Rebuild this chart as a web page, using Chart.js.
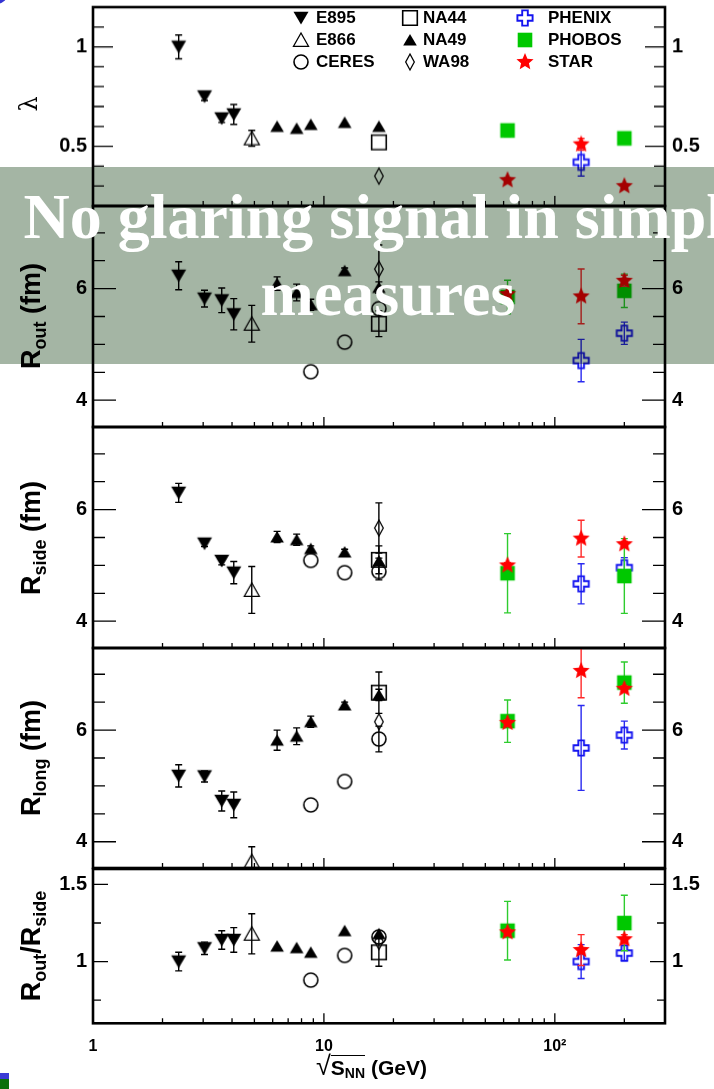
<!DOCTYPE html>
<html>
<head>
<meta charset="utf-8">
<title>HBT parameters versus collision energy</title>
<script src="https://cdn.jsdelivr.net/npm/chart.js@4.4.1/dist/chart.umd.min.js"></script>
<style>
  html, body { margin:0; padding:0; background:#fff; }
  body { position:relative; width:714px; height:1089px; overflow:hidden;
         font-family:"Liberation Sans", Arial, Helvetica, sans-serif; color:#000; }
  #panels { position:absolute; left:0; top:0; width:714px; height:1089px; }
  canvas.panel { position:absolute; left:0; }
  .ytitle { position:absolute; transform:translate(-50%,-50%) rotate(-90deg); white-space:nowrap;
            font-weight:bold; font-size:27px; line-height:1; }
  .ytitle sub { font-size:18px; vertical-align:-6px; line-height:0; }
  #lambdaTitle { font-family:"DejaVu Serif", serif; font-weight:normal; font-size:24px; }
  .leg { position:absolute; font-weight:bold; font-size:17px; line-height:22px; height:22px; white-space:nowrap; }
  .legmark { position:absolute; }
  #xtitle { position:absolute; left:316px; top:1053px; font-weight:bold; font-size:21px; white-space:nowrap; line-height:1; }
  #xtitle .rad { font-weight:normal; font-size:27px; }
  #xtitle .ov { border-top:1.6px solid #000; }
  #xtitle sub { font-size:14px; vertical-align:-3px; line-height:0; }
  #banner { position:absolute; left:0; top:167px; width:714px; height:197px; background:#a4b5a4; mix-blend-mode:multiply; }
  #bannerText { position:absolute; left:0; top:178px; width:776px; text-align:center; color:#fff;
     font-family:"Liberation Serif","Times New Roman",serif; font-weight:bold; font-size:64px; line-height:77px; white-space:nowrap; }
  .deco { position:absolute; }
</style>
</head>
<body>
<div id="panels"></div>
<div id="overlay"></div>
<div id="xtitle"><span class="rad">√</span><span class="ov">S<sub>NN</sub></span> (GeV)</div>
<div id="banner"></div>
<div id="bannerText">No glaring signal in simple<br>measures</div>
<div class="deco" style="left:-14px;top:-14px;width:21px;height:18px;border-radius:50%;background:#3434d2;"></div>
<div class="deco" style="left:0;top:1073px;width:9px;height:6px;background:#3b3bd6;"></div>
<div class="deco" style="left:0;top:1079px;width:9px;height:10px;background:#0b700b;"></div>
<script>
// ---- sqrt(s_NN) of each data set (GeV) ----
const E895_SQRTS   = [2.35, 3.04, 3.61, 4.07];
const E866_SQRTS   = [4.87];
const CERES_SQRTS  = [8.77, 12.3, 17.3];
const NA44_SQRTS   = [17.3];
const NA49_SQRTS   = [6.27, 7.62, 8.77, 12.3, 17.3];
const WA98_SQRTS   = [17.3];
const PHENIX_SQRTS = [130, 200];
const PHOBOS_SQRTS = [62.4, 200];
const STAR_SQRTS   = [62.4, 130, 200];

// ---- lambda ----
const E895_LAMBDA   = [1.00, 0.75, 0.64, 0.66];        const E895_LAMBDA_ERR   = [0.06, 0.02, 0.02, 0.05];
const E866_LAMBDA   = [0.54];                          const E866_LAMBDA_ERR   = [0.04];
const CERES_LAMBDA  = [null, null, null];              const CERES_LAMBDA_ERR  = [0, 0, 0];
const NA44_LAMBDA   = [0.52];                          const NA44_LAMBDA_ERR   = [0];
const NA49_LAMBDA   = [0.60, 0.59, 0.61, 0.62, 0.60];  const NA49_LAMBDA_ERR   = [0, 0, 0, 0, 0];
const WA98_LAMBDA   = [0.35];                          const WA98_LAMBDA_ERR   = [0];
const PHENIX_LAMBDA = [0.42, null];                    const PHENIX_LAMBDA_ERR = [0.07, 0];
const PHOBOS_LAMBDA = [0.58, 0.54];                    const PHOBOS_LAMBDA_ERR = [0.03, 0.02];
const STAR_LAMBDA   = [0.33, 0.51, 0.30];              const STAR_LAMBDA_ERR   = [0.01, 0.03, 0.01];

// ---- R_out (fm) ----
const E895_ROUT   = [6.23, 5.82, 5.79, 5.54];          const E895_ROUT_ERR   = [0.25, 0.15, 0.22, 0.28];
const E866_ROUT   = [5.37];                            const E866_ROUT_ERR   = [0.33];
const CERES_ROUT  = [4.51, 5.04, 5.64];                const CERES_ROUT_ERR  = [0, 0, 0];
const NA44_ROUT   = [5.37];                            const NA44_ROUT_ERR   = [0.23];
const NA49_ROUT   = [6.09, 5.93, 5.71, 6.32, 6.02];    const NA49_ROUT_ERR   = [0.12, 0.15, 0.10, 0.05, 0.10];
const WA98_ROUT   = [6.35];                            const WA98_ROUT_ERR   = [0.43];
const PHENIX_ROUT = [4.71, 5.20];                      const PHENIX_ROUT_ERR = [0.38, 0.20];
const PHOBOS_ROUT = [5.85, 5.96];                      const PHOBOS_ROUT_ERR = [0.30, 0.30];
const STAR_ROUT   = [5.90, 5.86, 6.14];                const STAR_ROUT_ERR   = [0.05, 0.49, 0.10];

// ---- R_side (fm) ----
const E895_RSIDE   = [6.30, 5.39, 5.08, 4.87];         const E895_RSIDE_ERR   = [0.17, 0.05, 0.07, 0.20];
const E866_RSIDE   = [4.56];                           const E866_RSIDE_ERR   = [0.42];
const CERES_RSIDE  = [5.09, 4.87, 4.89];               const CERES_RSIDE_ERR  = [0, 0, 0.15];
const NA44_RSIDE   = [5.10];                           const NA44_RSIDE_ERR   = [0.25];
const NA49_RSIDE   = [5.51, 5.46, 5.30, 5.24, 5.08];   const NA49_RSIDE_ERR   = [0.10, 0.10, 0.05, 0.05, 0.05];
const WA98_RSIDE   = [5.67];                           const WA98_RSIDE_ERR   = [0.45];
const PHENIX_RSIDE = [4.67, 4.96];                     const PHENIX_RSIDE_ERR = [0.36, 0.18];
const PHOBOS_RSIDE = [4.86, 4.81];                     const PHOBOS_RSIDE_ERR = [0.71, 0.67];
const STAR_RSIDE   = [5.00, 5.48, 5.38];               const STAR_RSIDE_ERR   = [0.05, 0.33, 0.05];

// ---- R_long (fm) ----
const E895_RLONG   = [5.18, 5.17, 4.73, 4.66];         const E895_RLONG_ERR   = [0.20, 0.10, 0.18, 0.23];
const E866_RLONG   = [3.65];                           const E866_RLONG_ERR   = [0.26];
const CERES_RLONG  = [4.66, 5.08, 5.84];               const CERES_RLONG_ERR  = [0, 0, 0.23];
const NA44_RLONG   = [6.67];                           const NA44_RLONG_ERR   = [0.37];
const NA49_RLONG   = [5.82, 5.89, 6.15, 6.45, 6.63];   const NA49_RLONG_ERR   = [0.18, 0.15, 0.10, 0.05, 0.10];
const WA98_RLONG   = [6.15];                           const WA98_RLONG_ERR   = [0];
const PHENIX_RLONG = [5.68, 5.91];                     const PHENIX_RLONG_ERR = [0.76, 0.25];
const PHOBOS_RLONG = [6.16, 6.85];                     const PHOBOS_RLONG_ERR = [0.38, 0.37];
const STAR_RLONG   = [6.13, 7.06, 6.74];               const STAR_RLONG_ERR   = [0.05, 0.48, 0.05];

// ---- R_out / R_side ----
const E895_RATIO   = [1.00, 1.086, 1.14, 1.14];        const E895_RATIO_ERR   = [0.06, 0.04, 0.06, 0.08];
const E866_RATIO   = [1.18];                           const E866_RATIO_ERR   = [0.13];
const CERES_RATIO  = [0.88, 1.04, 1.16];               const CERES_RATIO_ERR  = [0, 0, 0];
const NA44_RATIO   = [1.06];                           const NA44_RATIO_ERR   = [0.09];
const NA49_RATIO   = [1.10, 1.09, 1.06, 1.20, 1.18];   const NA49_RATIO_ERR   = [0, 0, 0, 0, 0];
const WA98_RATIO   = [1.13];                           const WA98_RATIO_ERR   = [0];
const PHENIX_RATIO = [1.00, 1.055];                    const PHENIX_RATIO_ERR = [0.11, 0.05];
const PHOBOS_RATIO = [1.20, 1.25];                     const PHOBOS_RATIO_ERR = [0.19, 0.18];
const STAR_RATIO   = [1.19, 1.075, 1.145];             const STAR_RATIO_ERR   = [0.02, 0.10, 0.03];

// ---- axis tick values ----
const X_MAJOR = [1, 10, 100];
const X_LABELS = ['1', '10', '10²'];
const X_MINOR = [2, 3, 4, 5, 6, 7, 8, 9, 20, 30, 40, 50, 60, 70, 80, 90, 200];
const LAMBDA_TICKS = [0.5, 1];
const LAMBDA_MINOR = [0.3, 0.4, 0.6, 0.7, 0.8, 0.9, 1.1];
const R_TICKS = [4, 6];
const R_MINOR = [4.5, 5, 5.5, 6.5, 7];
const RATIO_TICKS = [1, 1.5];
const RATIO_MINOR = [0.75, 1.25];

// Lookup built from the arrays above
const SERIES = {
  E895:   { sqrts: E895_SQRTS,   LAMBDA: [E895_LAMBDA, E895_LAMBDA_ERR],     ROUT: [E895_ROUT, E895_ROUT_ERR],     RSIDE: [E895_RSIDE, E895_RSIDE_ERR],     RLONG: [E895_RLONG, E895_RLONG_ERR],     RATIO: [E895_RATIO, E895_RATIO_ERR] },
  E866:   { sqrts: E866_SQRTS,   LAMBDA: [E866_LAMBDA, E866_LAMBDA_ERR],     ROUT: [E866_ROUT, E866_ROUT_ERR],     RSIDE: [E866_RSIDE, E866_RSIDE_ERR],     RLONG: [E866_RLONG, E866_RLONG_ERR],     RATIO: [E866_RATIO, E866_RATIO_ERR] },
  CERES:  { sqrts: CERES_SQRTS,  LAMBDA: [CERES_LAMBDA, CERES_LAMBDA_ERR],   ROUT: [CERES_ROUT, CERES_ROUT_ERR],   RSIDE: [CERES_RSIDE, CERES_RSIDE_ERR],   RLONG: [CERES_RLONG, CERES_RLONG_ERR],   RATIO: [CERES_RATIO, CERES_RATIO_ERR] },
  NA44:   { sqrts: NA44_SQRTS,   LAMBDA: [NA44_LAMBDA, NA44_LAMBDA_ERR],     ROUT: [NA44_ROUT, NA44_ROUT_ERR],     RSIDE: [NA44_RSIDE, NA44_RSIDE_ERR],     RLONG: [NA44_RLONG, NA44_RLONG_ERR],     RATIO: [NA44_RATIO, NA44_RATIO_ERR] },
  NA49:   { sqrts: NA49_SQRTS,   LAMBDA: [NA49_LAMBDA, NA49_LAMBDA_ERR],     ROUT: [NA49_ROUT, NA49_ROUT_ERR],     RSIDE: [NA49_RSIDE, NA49_RSIDE_ERR],     RLONG: [NA49_RLONG, NA49_RLONG_ERR],     RATIO: [NA49_RATIO, NA49_RATIO_ERR] },
  WA98:   { sqrts: WA98_SQRTS,   LAMBDA: [WA98_LAMBDA, WA98_LAMBDA_ERR],     ROUT: [WA98_ROUT, WA98_ROUT_ERR],     RSIDE: [WA98_RSIDE, WA98_RSIDE_ERR],     RLONG: [WA98_RLONG, WA98_RLONG_ERR],     RATIO: [WA98_RATIO, WA98_RATIO_ERR] },
  PHENIX: { sqrts: PHENIX_SQRTS, LAMBDA: [PHENIX_LAMBDA, PHENIX_LAMBDA_ERR], ROUT: [PHENIX_ROUT, PHENIX_ROUT_ERR], RSIDE: [PHENIX_RSIDE, PHENIX_RSIDE_ERR], RLONG: [PHENIX_RLONG, PHENIX_RLONG_ERR], RATIO: [PHENIX_RATIO, PHENIX_RATIO_ERR] },
  PHOBOS: { sqrts: PHOBOS_SQRTS, LAMBDA: [PHOBOS_LAMBDA, PHOBOS_LAMBDA_ERR], ROUT: [PHOBOS_ROUT, PHOBOS_ROUT_ERR], RSIDE: [PHOBOS_RSIDE, PHOBOS_RSIDE_ERR], RLONG: [PHOBOS_RLONG, PHOBOS_RLONG_ERR], RATIO: [PHOBOS_RATIO, PHOBOS_RATIO_ERR] },
  STAR:   { sqrts: STAR_SQRTS,   LAMBDA: [STAR_LAMBDA, STAR_LAMBDA_ERR],     ROUT: [STAR_ROUT, STAR_ROUT_ERR],     RSIDE: [STAR_RSIDE, STAR_RSIDE_ERR],     RLONG: [STAR_RLONG, STAR_RLONG_ERR],     RATIO: [STAR_RATIO, STAR_RATIO_ERR] }
};

// Marker look of each experiment
const STYLE = {
  STAR:   { marker: 'star',        color: '#ff0000', err: '#ff2b2b' },
  PHOBOS: { marker: 'squareFill',  color: '#00c800', err: '#2ecc2e' },
  PHENIX: { marker: 'crossOpen',   color: '#1414f0', err: '#2a2af0' },
  WA98:   { marker: 'diamondOpen', color: '#000',    err: '#000' },
  NA49:   { marker: 'triUp',       color: '#000',    err: '#000' },
  NA44:   { marker: 'squareOpen',  color: '#000',    err: '#000' },
  CERES:  { marker: 'circleOpen',  color: '#000',    err: '#000' },
  E866:   { marker: 'triUpOpen',   color: '#000',    err: '#000' },
  E895:   { marker: 'triDown',     color: '#000',    err: '#000' }
};
// first entry is painted last (on top)
const DRAW_ORDER = ['STAR', 'PHOBOS', 'PHENIX', 'WA98', 'NA49', 'NA44', 'CERES', 'E866', 'E895'];

// Panel geometry (page pixels) and axis ranges
const PANELS = [
  { key: 'LAMBDA', top: 7,     bottom: 205.5,  min: 0.2,  max: 1.2,  major: LAMBDA_TICKS, minor: LAMBDA_MINOR, majLen: 20, minLen: 11 },
  { key: 'ROUT',   top: 205.5, bottom: 427,    min: 3.52, max: 7.48, major: R_TICKS,      minor: R_MINOR,      majLen: 23, minLen: 12 },
  { key: 'RSIDE',  top: 427,   bottom: 648.3,  min: 3.52, max: 7.48, major: R_TICKS,      minor: R_MINOR,      majLen: 23, minLen: 12 },
  { key: 'RLONG',  top: 648.3, bottom: 868.5,  min: 3.53, max: 7.47, major: R_TICKS,      minor: R_MINOR,      majLen: 23, minLen: 12 },
  { key: 'RATIO',  top: 868.5, bottom: 1023.3, min: 0.6,  max: 1.6,  major: RATIO_TICKS,  minor: RATIO_MINOR,  majLen: 15, minLen: 8 }
];

const PAGE_W = 714, PAGE_H = 1089, PAD = 20;
const PLOT_LEFT = 93, PLOT_RIGHT = 665;

function drawMarker(g, kind, cx, cy, color) {
  g.save();
  g.fillStyle = color; g.strokeStyle = color; g.lineJoin = 'miter';
  g.beginPath();
  switch (kind) {
    case 'triDown':
      g.moveTo(cx - 7.5, cy - 6.3); g.lineTo(cx + 7.5, cy - 6.3); g.lineTo(cx, cy + 6.5); g.closePath(); g.fill(); break;
    case 'triUp':
      g.moveTo(cx, cy - 6); g.lineTo(cx + 6.8, cy + 5.5); g.lineTo(cx - 6.8, cy + 5.5); g.closePath(); g.fill(); break;
    case 'triUpOpen':
      g.lineWidth = 1.3; g.moveTo(cx, cy - 7); g.lineTo(cx + 7.5, cy + 6.3); g.lineTo(cx - 7.5, cy + 6.3); g.closePath(); g.stroke(); break;
    case 'circleOpen':
      g.lineWidth = 1.6; g.arc(cx, cy, 7, 0, Math.PI * 2); g.stroke(); break;
    case 'squareOpen':
      g.lineWidth = 1.6; g.rect(cx - 7.3, cy - 7.3, 14.6, 14.6); g.stroke(); break;
    case 'diamondOpen':
      g.lineWidth = 1.3; g.moveTo(cx, cy - 8); g.lineTo(cx + 4.3, cy); g.lineTo(cx, cy + 8); g.lineTo(cx - 4.3, cy); g.closePath(); g.stroke(); break;
    case 'squareFill':
      g.rect(cx - 7.3, cy - 7.3, 14.6, 14.6); g.fill(); break;
    case 'crossOpen': {
      const a = 2.8, L = 7.6;
      g.lineWidth = 1.9;
      g.moveTo(cx - a, cy - L); g.lineTo(cx + a, cy - L); g.lineTo(cx + a, cy - a); g.lineTo(cx + L, cy - a);
      g.lineTo(cx + L, cy + a); g.lineTo(cx + a, cy + a); g.lineTo(cx + a, cy + L); g.lineTo(cx - a, cy + L);
      g.lineTo(cx - a, cy + a); g.lineTo(cx - L, cy + a); g.lineTo(cx - L, cy - a); g.lineTo(cx - a, cy - a);
      g.closePath(); g.stroke(); break;
    }
    case 'star': {
      const R = 9, r = 4.1;
      for (let k = 0; k < 10; k++) {
        const ang = -Math.PI / 2 + k * Math.PI / 5, rr = k % 2 ? r : R;
        const px = cx + rr * Math.cos(ang), py = cy + rr * Math.sin(ang);
        if (k) g.lineTo(px, py); else g.moveTo(px, py);
      }
      g.closePath(); g.fill(); break;
    }
  }
  g.restore();
}
function markerCanvas(name) {
  const c = document.createElement('canvas');
  c.width = 22; c.height = 22;
  drawMarker(c.getContext('2d'), STYLE[name].marker, 11, 11, STYLE[name].color);
  return c;
}

// Vertical error bars with end caps, painted just before each data set's markers
const errorBars = {
  id: 'errorBars',
  beforeDatasetDraw(chart, args) {
    const ds = chart.data.datasets[args.index];
    const ys = chart.scales.y;
    const a = chart.chartArea, ctx = chart.ctx;
    ctx.save();
    ctx.beginPath(); ctx.rect(a.left, a.top, a.right - a.left, a.bottom - a.top); ctx.clip();
    ctx.strokeStyle = ds.errColor; ctx.lineWidth = 1.4;
    args.meta.data.forEach((pt, i) => {
      const d = ds.data[i];
      if (!d || !d.err) return;
      const x = pt.x;
      const y1 = ys.getPixelForValue(d.y + d.err), y2 = ys.getPixelForValue(d.y - d.err);
      ctx.beginPath();
      ctx.moveTo(x, y1); ctx.lineTo(x, y2);
      ctx.moveTo(x - 3.5, y1); ctx.lineTo(x + 3.5, y1);
      ctx.moveTo(x - 3.5, y2); ctx.lineTo(x + 3.5, y2);
      ctx.stroke();
    });
    ctx.restore();
  }
};

// Frame with inward ticks on left, right and bottom edges
function framePlugin(p) {
  return {
    id: 'frame',
    afterDatasetsDraw(chart) {
      const { ctx, chartArea: a } = chart;
      const xs = chart.scales.x, ys = chart.scales.y;
      ctx.save();
      ctx.strokeStyle = '#000'; ctx.lineWidth = 1.3;
      ctx.beginPath();
      const yTick = (v, len) => {
        const py = ys.getPixelForValue(v);
        ctx.moveTo(a.left, py); ctx.lineTo(a.left + len, py);
        ctx.moveTo(a.right, py); ctx.lineTo(a.right - len, py);
      };
      p.major.forEach(v => yTick(v, p.majLen));
      p.minor.forEach(v => yTick(v, p.minLen));
      const xTick = (v, len) => {
        const px = xs.getPixelForValue(v);
        ctx.moveTo(px, a.bottom); ctx.lineTo(px, a.bottom - len);
      };
      X_MAJOR.slice(1).forEach(v => xTick(v, 10));
      X_MINOR.forEach(v => xTick(v, 5));
      ctx.stroke();
      ctx.lineWidth = 2.6;
      ctx.strokeRect(a.left, a.top, a.right - a.left, a.bottom - a.top);
      ctx.restore();
    }
  };
}

const TICK_FONT = { family: 'Liberation Sans', weight: 'bold', size: 20 };
const host = document.getElementById('panels');

PANELS.forEach((p, k) => {
  const last = k === PANELS.length - 1;
  const top = p.top - PAD;
  const h = last ? PAGE_H - top : (p.bottom + PAD) - top;
  const cv = document.createElement('canvas');
  cv.className = 'panel';
  cv.width = PAGE_W; cv.height = h;
  cv.style.top = top + 'px'; cv.style.width = PAGE_W + 'px'; cv.style.height = h + 'px';
  host.appendChild(cv);

  const datasets = DRAW_ORDER.map(name => {
    const s = SERIES[name];
    const [vals, errs] = s[p.key];
    const data = [];
    s.sqrts.forEach((x, i) => { if (vals[i] != null) data.push({ x, y: vals[i], err: errs[i] }); });
    return {
      label: name, data, errColor: STYLE[name].err,
      pointStyle: markerCanvas(name), pointRadius: 7, pointHoverRadius: 7,
      showLine: false, clip: 0, yAxisID: 'y', xAxisID: 'x'
    };
  });

  const yAxis = (pos, width, pad) => ({
    type: 'linear', position: pos, min: p.min, max: p.max, bounds: 'data',
    grid: { display: false, drawTicks: false }, border: { display: false },
    afterBuildTicks: s => { s.ticks = p.major.map(v => ({ value: v })); },
    afterFit: s => { s.width = width; },
    ticks: { font: TICK_FONT, color: '#000', padding: pad, callback: v => String(v) }
  });

  new Chart(cv.getContext('2d'), {
    type: 'scatter',
    data: { datasets },
    options: {
      responsive: false, animation: false, events: [],
      layout: { padding: { top: PAD, bottom: last ? 0 : PAD, left: 0, right: 0 } },
      plugins: { legend: { display: false }, tooltip: { enabled: false } },
      scales: {
        x: {
          type: 'logarithmic', min: 1, max: 300, bounds: 'data', display: last,
          grid: { display: false, drawTicks: false }, border: { display: false },
          afterBuildTicks: s => { s.ticks = X_MAJOR.map(v => ({ value: v })); },
          afterFit: s => { if (last) s.height = PAGE_H - p.bottom; },
          ticks: {
            font: { family: 'Liberation Sans', weight: 'bold', size: 16 }, color: '#000',
            padding: 14, maxRotation: 0, autoSkip: false,
            callback: v => X_LABELS[X_MAJOR.indexOf(v)]
          }
        },
        y: yAxis('left', PLOT_LEFT, 6),
        yR: yAxis('right', PAGE_W - PLOT_RIGHT, 7)
      }
    },
    plugins: [errorBars, framePlugin(p)]
  });
});

// Axis titles
const overlay = document.getElementById('overlay');
function addTitle(html, cx, cy, id) {
  const d = document.createElement('div');
  d.className = 'ytitle';
  if (id) d.id = id;
  d.innerHTML = html;
  d.style.left = cx + 'px'; d.style.top = cy + 'px';
  overlay.appendChild(d);
}
addTitle('λ', 29, 104, 'lambdaTitle');
addTitle('R<sub>out</sub> (fm)', 31, (PANELS[1].top + PANELS[1].bottom) / 2);
addTitle('R<sub>side</sub> (fm)', 31, (PANELS[2].top + PANELS[2].bottom) / 2);
addTitle('R<sub>long</sub> (fm)', 31, (PANELS[3].top + PANELS[3].bottom) / 2);
addTitle('R<sub>out</sub>/R<sub>side</sub>', 31, (PANELS[4].top + PANELS[4].bottom) / 2);

// Legend: three columns of three entries
const LEGEND_COLS = [
  { mark: 301, text: 316, names: ['E895', 'E866', 'CERES'] },
  { mark: 410, text: 423, names: ['NA44', 'NA49', 'WA98'] },
  { mark: 525, text: 548, names: ['PHENIX', 'PHOBOS', 'STAR'] }
];
const LEGEND_ROW_Y = [18, 40, 62];
LEGEND_COLS.forEach(col => {
  col.names.forEach((name, r) => {
    const y = LEGEND_ROW_Y[r];
    const m = markerCanvas(name);
    m.className = 'legmark';
    m.style.left = (col.mark - 11) + 'px'; m.style.top = (y - 11) + 'px';
    overlay.appendChild(m);
    const t = document.createElement('div');
    t.className = 'leg'; t.textContent = name;
    t.style.left = col.text + 'px'; t.style.top = (y - 11) + 'px';
    overlay.appendChild(t);
  });
});
</script>
</body>
</html>
